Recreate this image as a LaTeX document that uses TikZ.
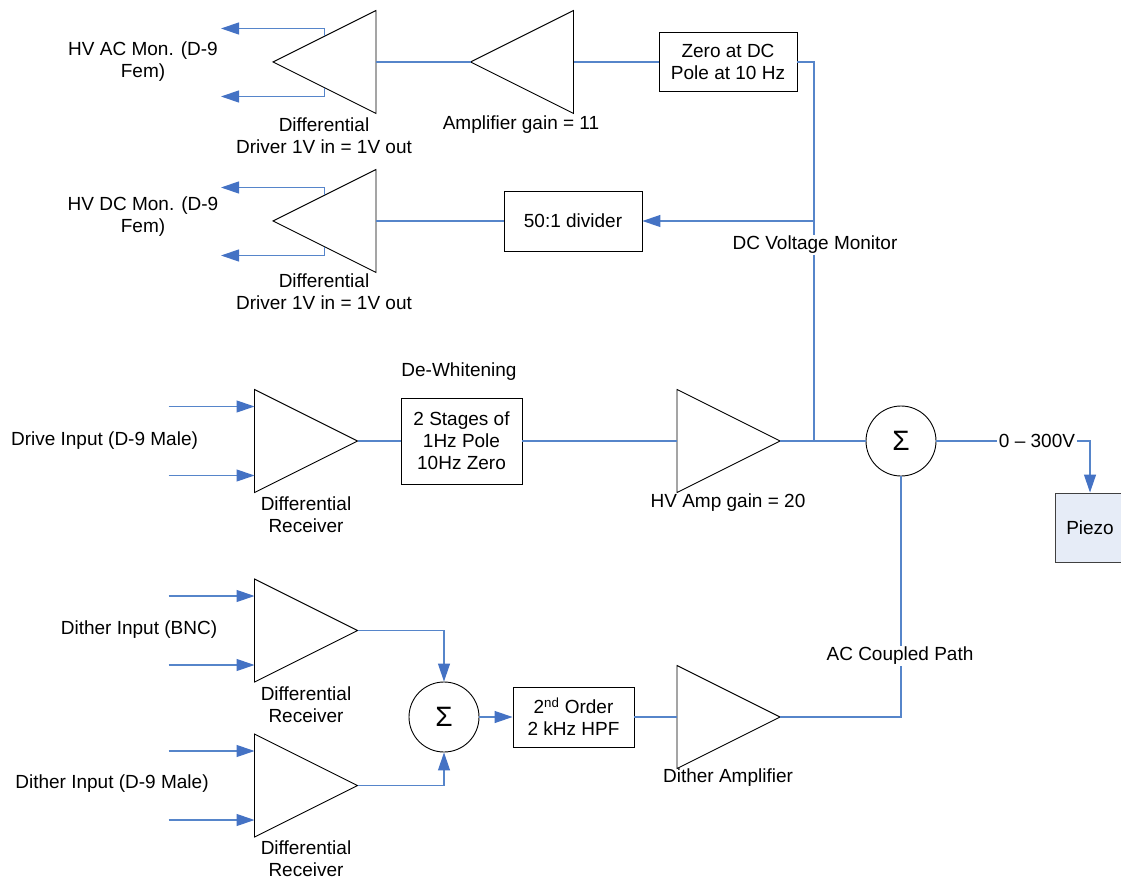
\documentclass[tikz,border=0pt]{standalone}
\usepackage{fontspec}
\setmainfont{Liberation Sans}
\usetikzlibrary{arrows.meta}
\definecolor{wire}{RGB}{86,133,202}
\definecolor{tipc}{RGB}{68,114,196}
\definecolor{pzfill}{RGB}{230,236,247}
\tikzset{
  ampline/.style={draw=black,line width=0.9pt,line join=miter},
  conn/.style={draw=wire,line width=1.2pt},
  arr/.style={conn,-{Triangle[length=18pt,width=12pt,color=tipc]}},
  lbl/.style={inner sep=0pt,align=center,font=\fontsize{19}{22}\selectfont},
  wlbl/.style={lbl,fill=white,inner sep=1.5pt},
  blk/.style={draw=black,line width=0.9pt,inner sep=0pt,align=center,font=\fontsize{19}{22}\selectfont},
  sumnode/.style={draw=black,line width=0.9pt,circle,minimum size=70pt,inner sep=0pt,font=\fontsize{28}{28}\selectfont},
  ampR/.pic={
    \draw[ampline] (-51.5,-51.5) -- (51.5,0) -- (-51.5,51.5) -- cycle;
    \coordinate (-in) at (-51.5,0);
    \coordinate (-out) at (51.5,0);
    \coordinate (-i1) at (-51.5,-34.5);
    \coordinate (-i2) at (-51.5,34.5);
    \coordinate (-s1) at (-137.5,-34.5);
    \coordinate (-s2) at (-137.5,34.5);
  },
  ampL/.pic={
    \draw[ampline] (51.5,-51.5) -- (-51.5,0) -- (51.5,51.5) -- cycle;
    \coordinate (-in) at (51.5,0);
    \coordinate (-out) at (-51.5,0);
    \coordinate (-top) at (0,-25.75);
    \coordinate (-bot) at (0,25.75);
    \coordinate (-o1) at (-103.5,-33.5);
    \coordinate (-o2) at (-103.5,34.5);
  }
}
\begin{document}
\begin{tikzpicture}[x=1pt,y=-1pt]
\useasboundingbox (0,0) rectangle (1121,882);
% ---------- top: AC monitor ----------
\pic (acd) at (324.5,62) {ampL};
\pic (amp11) at (522,62) {ampL};
\node[blk,minimum width=138pt,minimum height=59pt] (zero) at (728,62) {Zero at DC\\Pole at 10 Hz};
\node[lbl] (acmon) at (143,62) {HV AC Mon. (D-9\\Fem)};
\node[lbl] (acdl) at (324,136) {Differential\\Driver 1V in = 1V out};
\node[lbl] (amp11l) at (521,125) {Amplifier gain = 11};
% ---------- DC monitor ----------
\pic (dcd) at (324.5,221) {ampL};
\node[blk,minimum width=138pt,minimum height=60pt] (div) at (573,221) {50:1 divider};
\node[lbl] (dcmon) at (143,217) {HV DC Mon. (D-9\\Fem)};
\node[lbl] (dcdl) at (324,291.5) {Differential\\Driver 1V in = 1V out};
% ---------- drive path ----------
\pic (drv) at (306,441) {ampR};
\node[blk,minimum width=121pt,minimum height=86pt] (dw) at (461.5,441) {2 Stages of\\1Hz Pole\\10Hz Zero};
\pic (hv) at (728.5,441) {ampR};
\node[sumnode] (sum1) at (901,441) {Σ};
\node[blk,draw=black!75,fill=pzfill,minimum width=70pt,minimum height=69pt] (pz) at (1090,527.5) {Piezo};
\node[lbl] (drvin) at (104.5,441) {Drive Input (D-9 Male)};
\node[lbl] (drvl) at (306,515) {Differential\\Receiver};
\node[lbl] (dwl) at (459,372) {De-Whitening};
\node[lbl] (hvl) at (728,503) {HV Amp gain = 20};
\coordinate (jn) at (814,441);
\coordinate (dcm) at (814,221);
% ---------- dither path ----------
\pic (dr1) at (306,630.5) {ampR};
\pic (dr2) at (306,785.5) {ampR};
\node[sumnode] (sum2) at (444,717) {Σ};
\node[blk,minimum width=121pt,minimum height=60pt] (hpf) at (573.5,717) {2\textsuperscript{nd} Order\\2 kHz HPF};
\pic (dam) at (728.5,717) {ampR};
\node[lbl] (dr1in) at (139,630) {Dither Input (BNC)};
\node[lbl] (dr2in) at (112,784) {Dither Input (D-9 Male)};
\node[lbl] (dr1l) at (306,704.5) {Differential\\Receiver};
\node[lbl] (dr2l) at (306,859) {Differential\\Receiver};
\node[lbl] (daml) at (728,778) {Dither Amplifier};
% ---------- connectors ----------
\draw[arr] (acd-top) |- (acd-o1);
\draw[arr] (acd-bot) |- (acd-o2);
\draw[conn] (amp11-out) -- (acd-in);
\draw[conn] (zero.west) -- (amp11-in);
\draw[conn] (zero.east) -| (jn);
\draw[arr] (dcm) -- (div.east);
\draw[conn] (dcd-in) -- (div.west);
\draw[arr] (dcd-top) |- (dcd-o1);
\draw[arr] (dcd-bot) |- (dcd-o2);
\draw[arr] (drv-s1) -- (drv-i1);
\draw[arr] (drv-s2) -- (drv-i2);
\draw[conn] (drv-out) -- (dw.west);
\draw[conn] (dw.east) -- (hv-in);
\draw[conn] (hv-out) -- (sum1.west);
\draw[arr] (sum1.east) -| (pz.north);
\draw[arr] (dr1-s1) -- (dr1-i1);
\draw[arr] (dr1-s2) -- (dr1-i2);
\draw[arr] (dr2-s1) -- (dr2-i1);
\draw[arr] (dr2-s2) -- (dr2-i2);
\draw[arr] (dr1-out) -| (sum2.north);
\draw[arr] (dr2-out) -| (sum2.south);
\draw[arr] (sum2.east) -- (hpf.west);
\draw[conn] (hpf.east) -- (dam-in);
\draw[conn] (dam-out) -| (sum1.south);
% labels over wires
\node[wlbl] (dcml) at (815,245) {DC Voltage Monitor};
\node[wlbl] (acpl) at (900,656) {AC Coupled Path};
\node[wlbl] (vl) at (1037,441) {0 – 300V};
\end{tikzpicture}
\end{document}
